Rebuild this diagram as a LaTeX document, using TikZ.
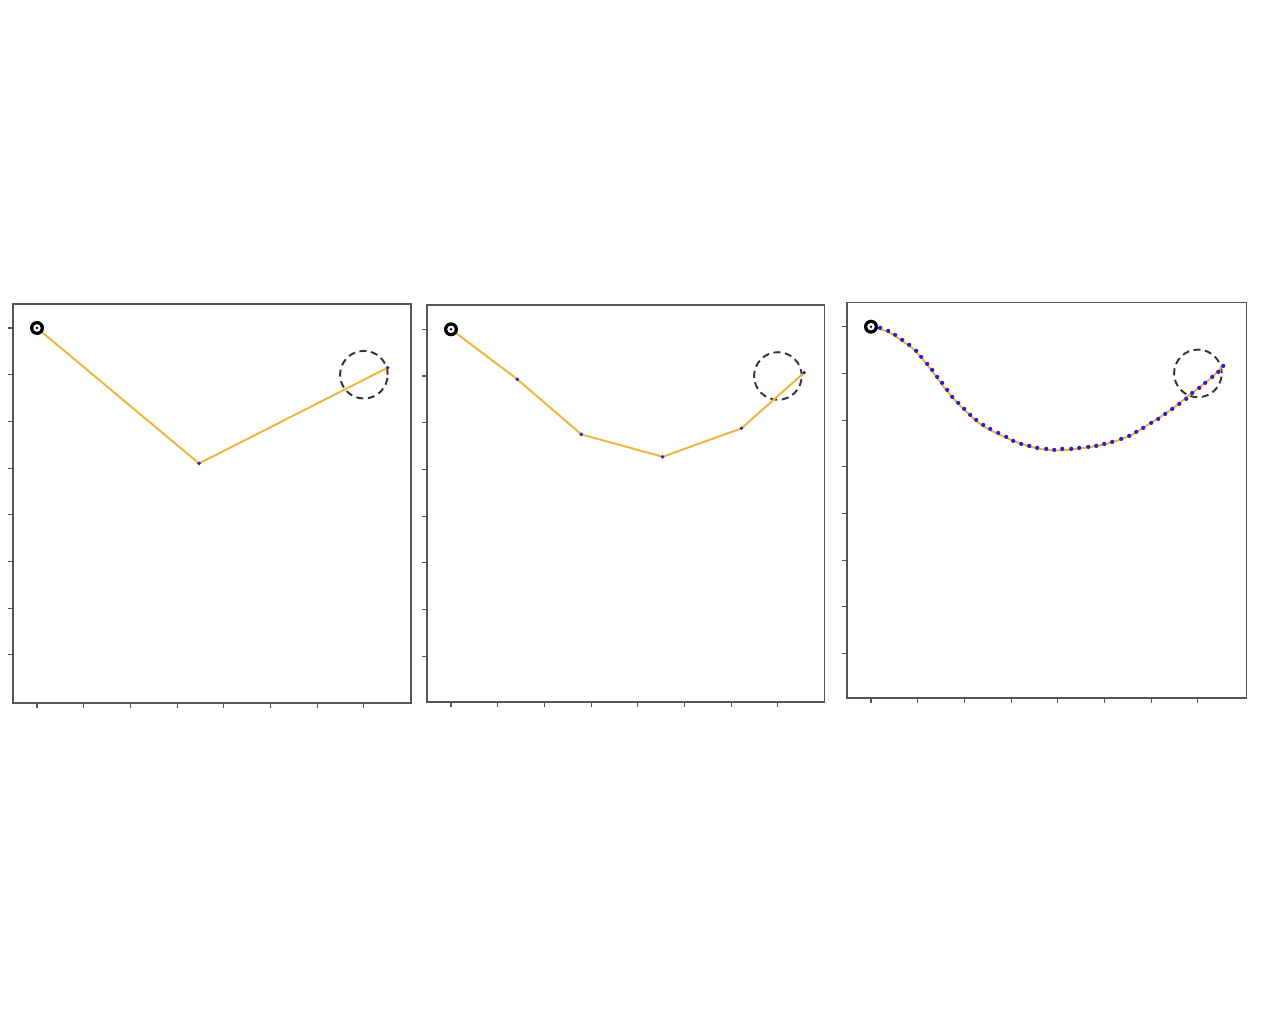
\documentclass[tikz,border=0pt]{standalone}
\usepackage{tikz}
\definecolor{Route}{HTML}{F0B33C}
\definecolor{Waypt}{HTML}{2A1FC8}
\definecolor{Frame}{HTML}{555555}

\begin{document}
\begin{tikzpicture}[
    frame/.style={draw=Frame, line width=0.9pt},
    axtick/.style={draw=Frame, line width=0.6pt},
    route/.style={draw=Route, line width=1.1pt, line join=round},
    goal/.style={draw=black!80, line width=1.1pt, dash pattern=on 4pt off 2.6pt}
  ]
  \useasboundingbox (0,0) rectangle (25.6,20.28);

  % three panels, same axes
  \foreach \ox/\oy/\bot/\rgt in {0.74/7.182/-1.03/8.01, 9.02/7.156/-0.98/8.0, 17.42/7.208/-0.95/8.04} {
    \begin{scope}[shift={(\ox,\oy)}, x=0.934cm, y=0.934cm]
      \draw[frame] (-0.52,\bot) rectangle (\rgt,7.52);
      \foreach \t in {0,...,7} {
        \draw[axtick] (\t,\bot) -- (\t,\bot-0.11);
        \draw[axtick] (-0.52,\t) -- (-0.63,\t);
      }
      \draw[goal] (7,6) circle (0.51);
    \end{scope}
  }

  % panel 1: one waypoint
  \begin{scope}[shift={(0.74,7.182)}, x=0.934cm, y=0.934cm]
    \draw[route] (0,7) -- (3.47,4.1) -- (7.51,6.15);
    \foreach \p in {(3.47,4.1), (7.51,6.15)}
      \fill[Waypt] \p circle (1.1pt);
    \fill[black] (0,7) circle (0.15);
    \fill[white] (0,7) circle (0.08);
    \fill[black] (0,7) circle (0.03);
  \end{scope}

  % panel 2: four waypoints
  \begin{scope}[shift={(9.02,7.156)}, x=0.934cm, y=0.934cm]
    \draw[route] (0,7) -- (1.42,5.93) -- (2.79,4.75) -- (4.53,4.27) -- (6.22,4.88) -- (7.56,6.07);
    \foreach \p in {(1.42,5.93), (2.79,4.75), (4.53,4.27), (6.22,4.88), (7.56,6.07)}
      \fill[Waypt] \p circle (1.1pt);
    \fill[black] (0,7) circle (0.15);
    \fill[white] (0,7) circle (0.08);
    \fill[black] (0,7) circle (0.03);
  \end{scope}

  % panel 3: smooth dense route
  \begin{scope}[shift={(17.42,7.208)}, x=0.934cm, y=0.934cm]
    \draw[route] plot[smooth, tension=0.6] coordinates {
      (0,7) (0.36,6.89) (0.66,6.70) (0.96,6.47) (1.30,6.06) (1.62,5.63)
      (1.99,5.23) (2.39,4.88) (2.88,4.63) (3.38,4.44) (3.91,4.35) (4.44,4.39)
      (4.98,4.48) (5.51,4.65) (5.98,4.93) (6.43,5.23) (6.86,5.57) (7.29,5.91)
      (7.52,6.15)};
  \end{scope}
  % dense waypoints, in pixel units
  \begin{scope}[x=0.02cm, y=-0.02cm, shift={(0,-1014)}]
    \foreach \px/\py in {880/328, 888/331, 895/335, 902/340, 909/345, 916/351,
        921/357, 927/364, 932/370, 937/377, 942/383, 947/390, 952/397, 958/403,
        964/409, 970/415, 976/420, 983/425, 990/429, 998/433, 1006/437, 1013/441,
        1021/444, 1029/446, 1037/448, 1046/449, 1054/450, 1062/449, 1071/449,
        1079/448, 1088/447, 1096/446, 1104/444, 1112/442, 1121/439, 1129/436,
        1136/432, 1143/428, 1151/423, 1158/419, 1165/414, 1172/409, 1179/404,
        1186/399, 1192/393, 1199/388, 1205/383, 1212/377, 1218/372, 1223/366}
      \fill[Waypt] (\px,\py) circle (1.2pt);
  \end{scope}
  \begin{scope}[shift={(17.42,7.208)}, x=0.934cm, y=0.934cm]
    \fill[black] (0,7) circle (0.15);
    \fill[white] (0,7) circle (0.08);
    \fill[black] (0,7) circle (0.03);
  \end{scope}
\end{tikzpicture}
\end{document}
